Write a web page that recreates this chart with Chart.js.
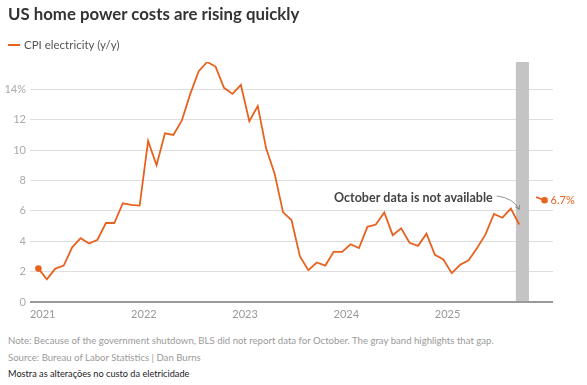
<!DOCTYPE html>
<html>
<head>
<meta charset="utf-8">
<script src="https://cdn.jsdelivr.net/npm/chart.js@4.4.1/dist/chart.umd.min.js"></script>
<style>
  body { margin: 0; background: #fff; font-family: Lato, "Open Sans", sans-serif; }
  #wrap { position: relative; width: 587px; height: 385px; overflow: hidden; }
  #chart { position: absolute; left: 0; top: 0; }
  .txt { position: absolute; white-space: nowrap; }
  #title { left: 8px; top: 3px; font-size: 16.8px; font-weight: 700; color: #333; font-family: Lato, sans-serif; }
  #legend { left: 8px; top: 38px; font-size: 11.5px; color: #555; }
  #legend span.sw { display: inline-block; width: 12px; height: 2px; background: #e8621f; vertical-align: middle; margin-right: 4px; margin-top: -2px; }
  .foot { left: 8px; font-size: 9.6px; color: #9a9a9a; }
  #note { top: 335px; }
  #source { top: 352px; }
  #desc { top: 368px; color: #222; font-size: 9.2px; }
</style>
</head>
<body>
<div id="wrap">
  <canvas id="chart" width="587" height="330"></canvas>
  <div class="txt" id="title">US home power costs are rising quickly</div>
  <div class="txt" id="legend"><span class="sw"></span>CPI electricity (y/y)</div>
  <div class="txt foot" id="note">Note: Because of the government shutdown, BLS did not report data for October. The gray band highlights that gap.</div>
  <div class="txt foot" id="source">Source: Bureau of Labor Statistics | Dan Burns</div>
  <div class="txt foot" id="desc">Mostra as alterações no custo da eletricidade</div>
</div>
<script>
// Data: monthly CPI electricity, year-over-year %, Dec 2020 - Dec 2025
var months = [
    '2020-12',
    '2021-01', '2021-02', '2021-03', '2021-04', '2021-05', '2021-06', '2021-07', '2021-08', '2021-09', '2021-10', '2021-11', '2021-12',
    '2022-01', '2022-02', '2022-03', '2022-04', '2022-05', '2022-06', '2022-07', '2022-08', '2022-09', '2022-10', '2022-11', '2022-12',
    '2023-01', '2023-02', '2023-03', '2023-04', '2023-05', '2023-06', '2023-07', '2023-08', '2023-09', '2023-10', '2023-11', '2023-12',
    '2024-01', '2024-02', '2024-03', '2024-04', '2024-05', '2024-06', '2024-07', '2024-08', '2024-09', '2024-10', '2024-11', '2024-12',
    '2025-01', '2025-02', '2025-03', '2025-04', '2025-05', '2025-06', '2025-07', '2025-08', '2025-09', '2025-10', '2025-11', '2025-12'
];
var cpiElectricity = [
    2.2,
    1.5, 2.2, 2.4, 3.6, 4.2, 3.85, 4.1, 5.2, 5.2, 6.5, 6.4, 6.35,
    10.6, 9.0, 11.1, 11.0, 11.95, 13.7, 15.2, 15.8, 15.5, 14.1, 13.7, 14.3,
    11.9, 12.9, 10.1, 8.45, 5.9, 5.4, 3.0, 2.1, 2.6, 2.4, 3.3, 3.3,
    3.8, 3.55, 4.95, 5.1, 5.9, 4.4, 4.85, 3.9, 3.7, 4.5, 3.1, 2.8,
    1.9, 2.45, 2.75, 3.55, 4.45, 5.8, 5.55, 6.15, 5.1, null, 6.9, 6.7
];
var yTicks = [0, 2, 4, 6, 8, 10, 12, 14];
var yearLabels = ['2021', '2022', '2023', '2024', '2025'];
var missingMonth = '2025-10';
var annotationText = 'October data is not available';

var orange = '#e8621f';
var lastIdx = cpiElectricity.length - 1;
var gapIdx = months.indexOf(missingMonth);

// Year ticks sit on January 1st (half a month before the mid-month point)
var yearTickValues = yearLabels.map(function (y) { return months.indexOf(y + '-01') - 0.5; });

var points = cpiElectricity.map(function (v, i) { return { x: i, y: v }; });

/**
 * Gray band + annotation
 */
var gapPlugin = {
    id: 'gap',
    beforeDatasetsDraw: function (chart) {
        var ctx = chart.ctx, xs = chart.scales.x, area = chart.chartArea;
        var x0 = xs.getPixelForValue(gapIdx - 1.4);
        var x1 = xs.getPixelForValue(gapIdx + 0.15);
        ctx.save();
        ctx.fillStyle = '#c4c4c4';
        ctx.fillRect(x0, area.top, x1 - x0, area.bottom - area.top - 1);
        ctx.restore();
    },
    afterDatasetsDraw: function (chart) {
        var ctx = chart.ctx, xs = chart.scales.x, ys = chart.scales.y;
        var gx = xs.getPixelForValue(gapIdx);
        ctx.save();
        // text
        ctx.font = 'bold 12.5px Lato, sans-serif';
        ctx.fillStyle = '#444';
        ctx.textAlign = 'right';
        ctx.textBaseline = 'middle';
        ctx.fillText(annotationText, gx - 35, ys.getPixelForValue(6.84));
        // arrow
        var ax = gx - 31, ay = ys.getPixelForValue(6.98);
        var bx = gx - 8.5, by = ys.getPixelForValue(6.1);
        ctx.strokeStyle = '#777';
        ctx.lineWidth = 0.8;
        ctx.beginPath();
        ctx.moveTo(ax, ay);
        ctx.quadraticCurveTo(bx - 6, ay + 2, bx, by);
        ctx.stroke();
        ctx.beginPath();
        ctx.moveTo(bx - 4, by - 2.5);
        ctx.lineTo(bx, by);
        ctx.lineTo(bx + 0.5, by - 4.5);
        ctx.stroke();
        // end value label
        var lx = xs.getPixelForValue(lastIdx), ly = ys.getPixelForValue(cpiElectricity[lastIdx]);
        ctx.font = '11px Lato, sans-serif';
        ctx.fillStyle = orange;
        ctx.textAlign = 'left';
        ctx.fillText(cpiElectricity[lastIdx] + '%', lx + 6, ly + 0.5);
        ctx.restore();
    }
};

var chart = new Chart(document.getElementById('chart').getContext('2d'), {
    type: 'line',
    data: {
        datasets: [
            {
                label: 'CPI electricity (y/y)',
                data: points,
                borderColor: orange,
                backgroundColor: orange,
                borderWidth: 1.8,
                pointRadius: function (c) { return (c.dataIndex === 0 || c.dataIndex === lastIdx) ? 2.4 : 0; },
                pointHoverRadius: 0,
                spanGaps: false,
                tension: 0
            }
        ]
    },
    options: {
        responsive: false,
        animation: false,
        events: [],
        layout: { padding: { top: 62, right: 34, left: 0, bottom: 0 } },
        plugins: { legend: { display: false }, tooltip: { enabled: false } },
        scales: {
            x: {
                type: 'linear',
                min: -1,
                max: lastIdx + 1,
                afterBuildTicks: function (scale) {
                    scale.ticks = yearTickValues.map(function (v) { return { value: v }; });
                },
                afterFit: function (scale) { scale.height = 28; },
                grid: { display: false, drawTicks: false },
                border: { display: false },
                ticks: {
                    autoSkip: false,
                    maxRotation: 0,
                    padding: 6,
                    color: '#999',
                    font: { family: 'Lato', size: 11 },
                    callback: function (v) { return yearLabels[yearTickValues.indexOf(v)]; }
                }
            },
            y: {
                min: 0,
                max: 15.8,
                afterBuildTicks: function (scale) {
                    scale.ticks = yTicks.map(function (v) { return { value: v }; });
                },
                afterFit: function (scale) { scale.width = 30; },
                grid: {
                    drawTicks: false,
                    color: function (c) { return c.tick.value === 0 ? '#999' : '#dedede'; },
                    lineWidth: function (c) { return c.tick.value === 0 ? 2 : 1; }
                },
                border: { display: false },
                ticks: {
                    padding: 4,
                    color: '#aaa',
                    font: { family: 'Lato', size: 11 },
                    callback: function (v) { return v === yTicks[yTicks.length - 1] ? v + '%' : v; }
                }
            }
        }
    },
    plugins: [gapPlugin]
});
</script>
</body>
</html>
